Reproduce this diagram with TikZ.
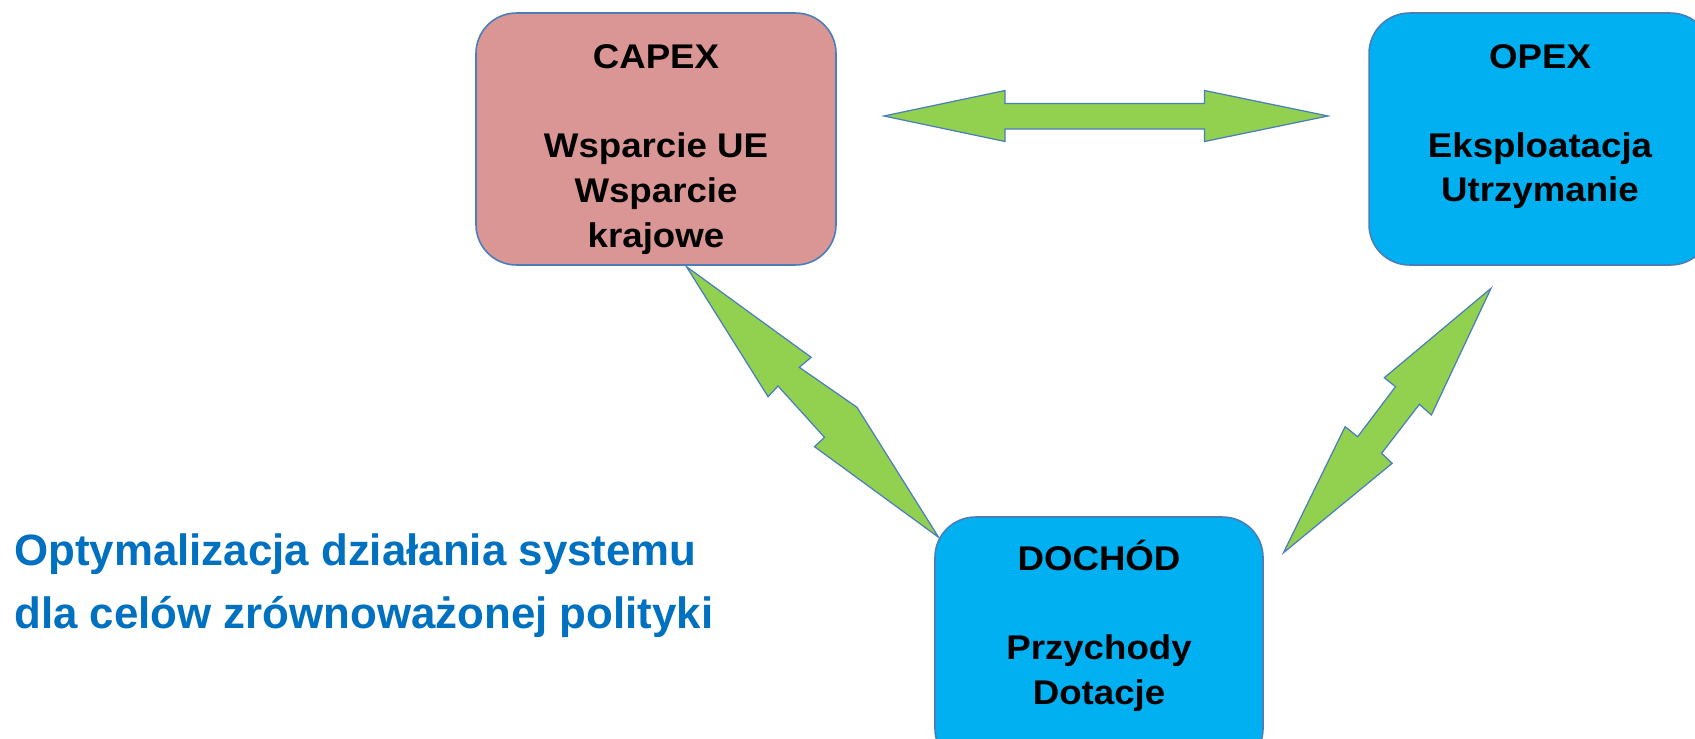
\documentclass[tikz,border=0pt]{standalone}
\usepackage{fontspec}
\setmainfont{Liberation Sans}
\newfontfamily\boxfont[FakeStretch=1.07]{Liberation Sans}
\definecolor{pinkbox}{HTML}{D99694}
\definecolor{cyanbox}{HTML}{00B0F0}
\definecolor{greenarr}{HTML}{92D050}
\definecolor{edgeblue}{HTML}{4A7EBB}
\definecolor{titleblue}{HTML}{0070C0}
\tikzset{
  boxshape/.style={draw=edgeblue, line width=0.9pt, rounded corners=23pt, minimum width=#1, minimum height=143.4pt, inner sep=0pt},
  boxtext/.style={anchor=base, inner sep=0pt, font=\boxfont\bfseries\fontsize{19.5pt}{25.6pt}\selectfont, text=black},
  arrowshape/.style={fill=greenarr, draw=edgeblue, line width=0.7pt, line join=miter},
  bluetext/.style={anchor=base west, inner sep=0pt, font=\bfseries\fontsize{24.95pt}{35.9pt}\selectfont, text=titleblue}
}
\begin{document}
\begin{tikzpicture}[x=0.02cm, y=-0.02cm]
\clip (0,0) rectangle (1695,738);
\fill[white] (0,0) rectangle (1695,738);

% boxes
\node[boxshape=204.9pt, fill=pinkbox] (capex) at (656,139) {};
\node[boxshape=194.6pt, fill=cyanbox] (opex) at (1540,139) {};
\node[boxshape=186.7pt, fill=cyanbox] (dochod) at (1099,643) {};

% box texts
\node[boxtext] (capexT) at (656,68) {CAPEX};
\node[boxtext] (capexA) at (656,157) {Wsparcie UE};
\node[boxtext] (capexB) at (656,202) {Wsparcie};
\node[boxtext] (capexC) at (656,247) {krajowe};

\node[boxtext] (opexT) at (1540,68) {OPEX};
\node[boxtext] (opexA) at (1540,157) {Eksploatacja};
\node[boxtext] (opexB) at (1540,201) {Utrzymanie};

\node[boxtext] (dochodT) at (1099,570) {DOCHÓD};
\node[boxtext] (dochodA) at (1099,659) {Przychody};
\node[boxtext] (dochodB) at (1099,704) {Dotacje};

% horizontal double block arrow CAPEX <-> OPEX
\draw[arrowshape] (884,116) -- (1005,90.5) -- (1005,103.5) -- (1204.5,103.5) -- (1204.5,90.5)
  -- (1328,116) -- (1204.5,141.5) -- (1204.5,129) -- (1005,129) -- (1005,141.5) -- cycle;

% lightning arrow CAPEX <-> DOCHOD
\draw[arrowshape] (686.5,266.7) -- (811.2,357.3) -- (799.3,367.3) -- (857,407.3) -- (938.6,537.3)
  -- (814.5,446.7) -- (824.5,437.3) -- (778,386) -- (768.1,396.7) -- cycle;

% lightning arrow OPEX <-> DOCHOD
\draw[arrowshape] (1491,288.3) -- (1431.4,415) -- (1419.4,404.3) -- (1381.6,453.3) -- (1392.2,463.3)
  -- (1283.5,552.7) -- (1345.1,426.7) -- (1357.7,436.7) -- (1395.5,386.7) -- (1384.3,377.7) -- cycle;

% caption
\node[bluetext] (cap1) at (14,565) {Optymalizacja działania systemu};
\node[bluetext] (cap2) at (14,628) {dla celów zrównoważonej polityki};
\end{tikzpicture}
\end{document}
